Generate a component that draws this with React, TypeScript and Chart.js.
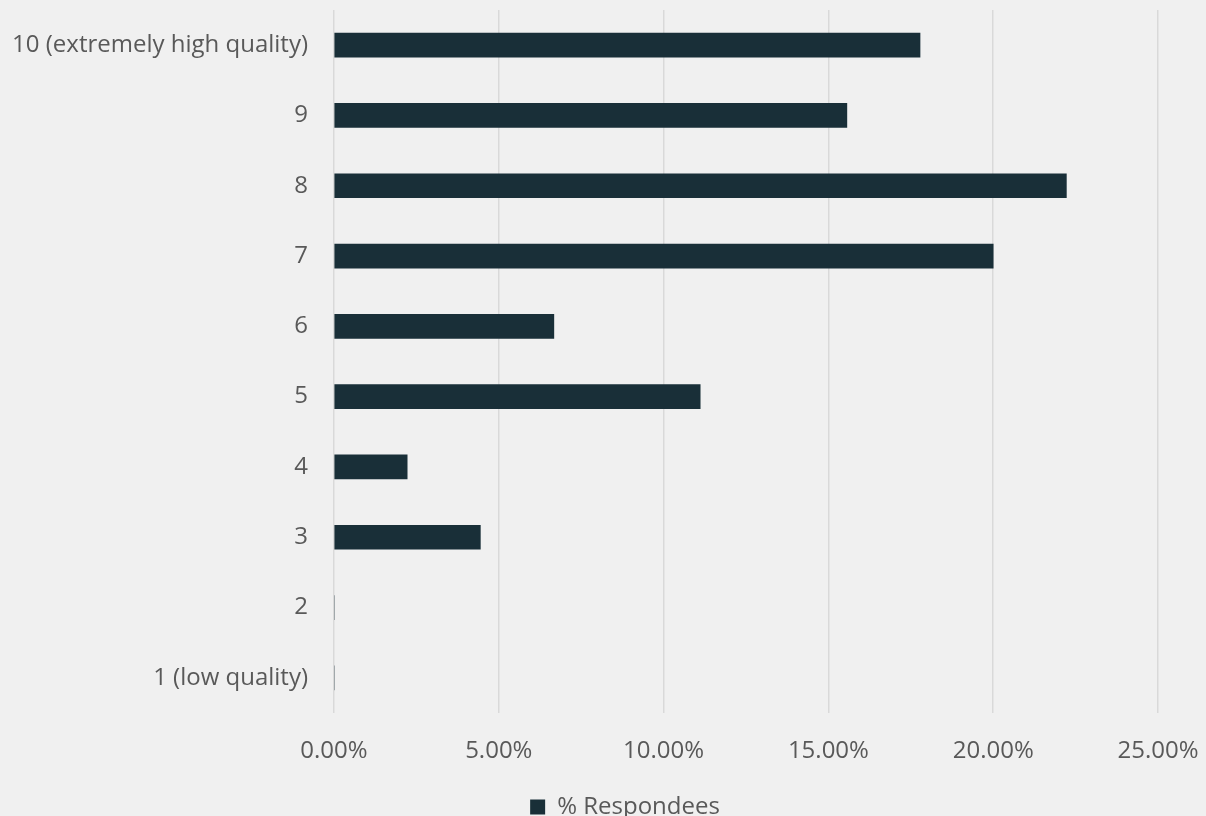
import React, { useEffect, useRef } from "react";
import { Chart, registerables } from "chart.js";

Chart.register(...registerables);

const categories = [
  "10 (extremely high quality)",
  "9",
  "8",
  "7",
  "6",
  "5",
  "4",
  "3",
  "2",
  "1 (low quality)",
];
const respondees = [17.78, 15.56, 22.22, 20.0, 6.67, 11.11, 2.22, 4.44, 0, 0];
const seriesName = "% Respondees";
const xMin = 0;
const xMax = 25;
const xStep = 5;

export default function App() {
  const ref = useRef<HTMLCanvasElement | null>(null);

  useEffect(() => {
    if (!ref.current) return;
    const font = { family: "'Open Sans', sans-serif", size: 24 };
    const legendShift = 46;
    const chart = new Chart(ref.current, {
      type: "bar",
      data: {
        labels: categories,
        datasets: [
          {
            label: seriesName,
            data: respondees,
            backgroundColor: "#192f38",
            borderWidth: 0,
            barThickness: 24,
          },
        ],
      },
      options: {
        indexAxis: "y",
        animation: false,
        responsive: false,
        maintainAspectRatio: false,
        layout: { padding: { top: 10, right: 48, bottom: -13, left: 0 } },
        plugins: {
          legend: {
            position: "bottom",
            labels: {
              font,
              color: "#595959",
              boxWidth: 15,
              boxHeight: 15,
              padding: 0,
            },
          },
          tooltip: { enabled: false },
        },
        scales: {
          x: {
            min: xMin,
            max: xMax,
            ticks: {
              stepSize: xStep,
              font,
              color: "#595959",
              padding: 24,
              callback: (v: any) => Number(v).toFixed(2) + "%",
            },
            grid: { color: "#d9d9d9", lineWidth: 1.5, drawTicks: false },
            border: { display: false },
            afterFit: (s: any) => {
              s.height = 82;
              s.paddingLeft = 0;
              s.paddingRight = 0;
            },
          },
          y: {
            ticks: { font, color: "#595959", padding: 26 },
            grid: { display: false, drawTicks: false },
            border: { display: false },
            afterFit: (s: any) => {
              s.width = 334;
              s.paddingTop = 0;
              s.paddingBottom = 0;
            },
          },
        },
      },
      plugins: [
        {
          id: "legendShift",
          afterLayout(c: any) {
            if (c.legend) {
              c.legend.left += legendShift;
              c.legend.right += legendShift;
            }
          },
        },
      ],
    });
    return () => chart.destroy();
  }, []);

  return (
    <div
      style={{
        position: "fixed",
        left: 0,
        top: 0,
        width: 1206,
        height: 816,
        background: "#f0f0f0",
      }}
    >
      <canvas ref={ref} width={1206} height={816} style={{ display: "block" }} />
    </div>
  );
}
